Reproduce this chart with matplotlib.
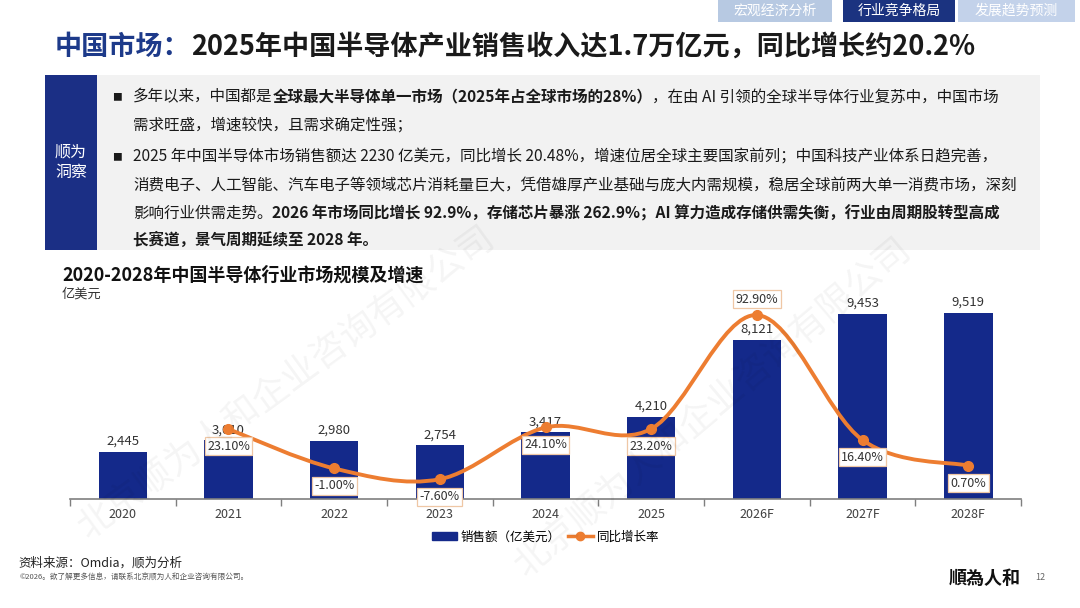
import matplotlib
matplotlib.use('Agg')
import matplotlib.pyplot as plt
from matplotlib.patches import Rectangle, Patch, PathPatch
from matplotlib.lines import Line2D
from matplotlib.path import Path

plt.rcParams['font.family'] = ['Noto Sans CJK SC', 'DejaVu Sans']

# 数据
years = ['2020', '2021', '2022', '2023', '2024', '2025', '2026F', '2027F', '2028F']
sales = [2445, 3010, 2980, 2754, 3417, 4210, 8121, 9453, 9519]
growth = [None, 23.1, -1.0, -7.6, 24.1, 23.2, 92.9, 16.4, 0.7]
label_above = [False, False, False, False, False, False, True, False, False]

tabs = ['宏观经济分析', '行业竞争格局', '发展趋势预测']
title_head = '中国市场：'
title_rest = '2025年中国半导体产业销售收入达1.7万亿元，同比增长约20.2%'
chart_title = '2020-2028年中国半导体行业市场规模及增速'
unit = '亿美元'
legend_bar = '销售额（亿美元）'
legend_line = '同比增长率'
source = '资料来源：Omdia，顺为分析'
copyright_text = '©2026。欲了解更多信息，请联系北京顺为人和企业咨询有限公司。'
watermark = '北京顺为人和企业咨询有限公司'

insight_lines = [
    (True, [('多年以来，中国都是', 'normal'), ('全球最大半导体单一市场（2025年占全球市场的28%）', 'bold'),
            ('，在由 AI 引领的全球半导体行业复苏中，中国市场', 'normal')]),
    (False, [('需求旺盛，增速较快，且需求确定性强；', 'normal')]),
    (True, [('2025 年中国半导体市场销售额达 2230 亿美元，同比增长 20.48%，增速位居全球主要国家前列；中国科技产业体系日趋完善，', 'normal')]),
    (False, [('消费电子、人工智能、汽车电子等领域芯片消耗量巨大，凭借雄厚产业基础与庞大内需规模，稳居全球前两大单一消费市场，深刻', 'normal')]),
    (False, [('影响行业供需走势。', 'normal'), ('2026 年市场同比增长 92.9%，存储芯片暴涨 262.9%；AI 算力造成存储供需失衡，行业由周期股转型高成', 'bold')]),
    (False, [('长赛道，景气周期延续至 2028 年。', 'bold')]),
]
line_y = [97, 125, 157, 186, 213, 240]

NAVY = '#14298a'
ORANGE = '#ed7d31'

fig = plt.figure(figsize=(10.8, 6.08), dpi=100)

# 背景层（像素坐标）
bg = fig.add_axes([0, 0, 1, 1], zorder=0)
bg.set_xlim(0, 1080)
bg.set_ylim(608, 0)
bg.axis('off')

# 顶部标签
tab_x = [(718, 832, '#b7c9e2'), (843, 955, '#1b3380'), (958, 1075, '#c3d2ea')]
for (x0, x1, c), t in zip(tab_x, tabs):
    bg.add_patch(Rectangle((x0, 0), x1 - x0, 22, color=c, lw=0))
    bg.text((x0 + x1) / 2, 11, t, color='white', fontsize=10, ha='center', va='center')

# 标题
t = bg.text(55, 47, title_head, fontsize=19.5, fontweight='bold', color='#1d3a8a', va='center')
bg.annotate(title_rest, xy=(1, 0), xycoords=t, fontsize=19.5, fontweight='bold',
            color='#1a1a1a', va='bottom')

# 洞察框
bg.add_patch(Rectangle((45, 75), 52, 175, color='#1b2f85', lw=0))
bg.add_patch(Rectangle((97, 75), 943, 175, color='#f2f2f2', lw=0))
bg.text(71, 162, '顺为\n洞察', color='white', fontsize=11.5, ha='center', va='center',
        linespacing=1.3)
for (bullet, parts), y in zip(insight_lines, line_y):
    if bullet:
        bg.text(117, y, '■', fontsize=7, color='#1a1a1a', va='center', ha='center')
    t = bg.text(133, y, parts[0][0], fontsize=11.2, fontweight=parts[0][1], color='#1a1a1a',
                va='center')
    for s, w in parts[1:]:
        t = bg.annotate(s, xy=(1, 0), xycoords=t, fontsize=11.2, fontweight=w,
                        color='#1a1a1a', va='bottom')

# 图表标题
bg.text(62, 275, chart_title, fontsize=13, fontweight='bold', color='#111111', va='center')
bg.text(62, 294, unit, fontsize=9.5, color='#333333', va='center')

# 页脚
bg.text(18, 563, source, fontsize=9, color='#222222', va='center')
bg.text(20, 578, copyright_text, fontsize=5.5, color='#555555', va='center')
bg.text(985, 578, '順為人和', fontsize=13, fontweight='bold', color='#111111', va='center',
        ha='center', family=['Noto Sans CJK TC', 'DejaVu Sans'])
bg.text(1040, 578, '12', fontsize=6.5, color='#666666', va='center', ha='center')

# 柱状图
ax = fig.add_axes([0.0648, 0.1785, 0.8806, 0.3224], zorder=1)
ax.set_facecolor('none')
x = list(range(len(years)))
ax.bar(x, sales, width=0.46, color=NAVY, zorder=2)
ax.set_xlim(-0.5, len(years) - 0.5)
ax.set_ylim(0, 10000)
for sp in ['top', 'right', 'left']:
    ax.spines[sp].set_visible(False)
ax.spines['bottom'].set_color('#7f7f7f')
ax.spines['bottom'].set_linewidth(1.2)
ax.set_yticks([])
ax.set_xticks(x)
ax.set_xticklabels(years, fontsize=9, color='#404040')
ax.tick_params(axis='x', which='major', length=0, pad=6)
ax.set_xticks([i - 0.5 for i in range(len(years) + 1)], minor=True)
ax.tick_params(axis='x', which='minor', length=5, color='#7f7f7f', width=1)
for xi, v in zip(x, sales):
    ax.annotate(f'{v:,}', xy=(xi, v), xytext=(0, 3), textcoords='offset points',
                ha='center', va='bottom', fontsize=9.5, color='#333333', zorder=3)

# 增长率折线（平滑）
ax2 = ax.twinx()
ax2.set_ylim(-20, 100)
ax2.axis('off')
px = [xi for xi, g in zip(x, growth) if g is not None]
py = [g for g in growth if g is not None]
verts = [(px[0], py[0])]
codes = [Path.MOVETO]
n = len(px)
for i in range(n - 1):
    p0 = (px[max(i - 1, 0)], py[max(i - 1, 0)])
    p1 = (px[i], py[i])
    p2 = (px[i + 1], py[i + 1])
    p3 = (px[min(i + 2, n - 1)], py[min(i + 2, n - 1)])
    c1 = (p1[0] + (p2[0] - p0[0]) / 6, p1[1] + (p2[1] - p0[1]) / 6)
    c2 = (p2[0] - (p3[0] - p1[0]) / 6, p2[1] - (p3[1] - p1[1]) / 6)
    verts += [c1, c2, p2]
    codes += [Path.CURVE4] * 3
ax2.add_patch(PathPatch(Path(verts, codes), fill=False, edgecolor=ORANGE, lw=2.8,
                        capstyle='round', zorder=4))
ax2.plot(px, py, 'o', color=ORANGE, markersize=7, zorder=5)
for xi, g, up in zip(x, growth, label_above):
    if g is None:
        continue
    off = 11.5 if up else -12.5
    ax2.annotate(f'{g:.2f}%', xy=(xi, g), xytext=(0, off), textcoords='offset points',
                 ha='center', va='center', fontsize=9, color='#333333', zorder=6,
                 bbox=dict(boxstyle='square,pad=0.2', fc='white', ec='#efc7a5', lw=0.9))

# 图例
handles = [Patch(color=NAVY),
           Line2D([0], [0], color=ORANGE, lw=2.5, marker='o', markersize=6)]
fig.legend(handles, [legend_bar, legend_line], loc='center', bbox_to_anchor=(0.505, 0.117),
           ncol=2, frameon=False, fontsize=9, handlelength=2.0, handletextpad=0.3,
           columnspacing=0.6)

# 水印
fig.text(0.265, 0.37, watermark, fontsize=26, rotation=36, color='#000000', alpha=0.045,
         ha='center', va='center', zorder=10)
fig.text(0.66, 0.33, watermark, fontsize=26, rotation=40, color='#000000', alpha=0.045,
         ha='center', va='center', zorder=10)

fig.savefig('out.png', dpi=100)
